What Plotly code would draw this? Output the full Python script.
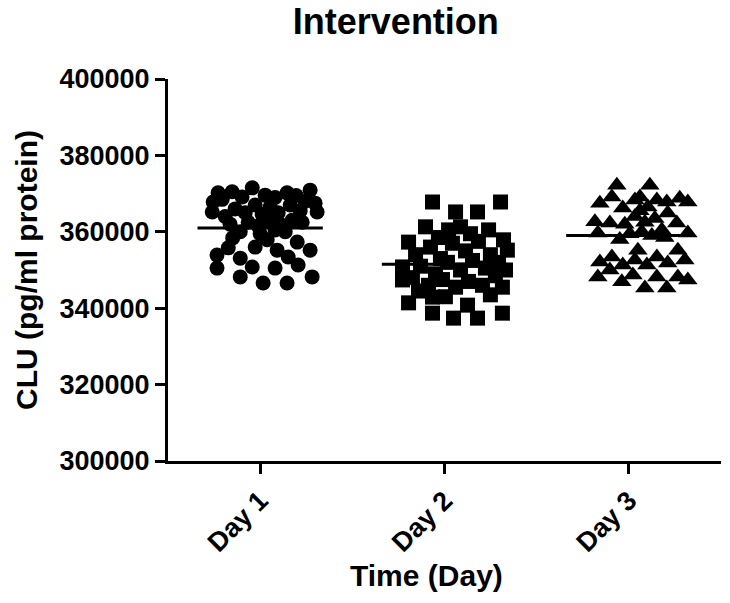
import plotly.graph_objects as go

categories = ["Day 1", "Day 2", "Day 3"]
y_ticks = [300000, 320000, 340000, 360000, 380000, 400000]

# jittered x position (in category units) and CLU value for each point
day1_x = [-0.228, -0.255, -0.260, -0.098, -0.043, 0.027, 0.146, 0.271, 0.298, 0.309,
          -0.190, -0.136, -0.081, -0.027, 0.011, 0.054, 0.098, 0.163, 0.217, 0.244,
          -0.163, -0.065, -0.011, 0.043, 0.108, 0.173, 0.228, -0.108, 0.000, 0.081,
          0.136, -0.206, 0.081, 0.195, -0.152,
          -0.149, 0.201, 0.271, -0.234, -0.173, -0.108, -0.027, 0.038, 0.092, 0.152,
          -0.234, -0.043, 0.081, 0.206, -0.108, 0.282, 0.016, 0.146]
day1_y = [370200, 367800, 365200, 369100, 371500, 369600, 370200, 370900, 367500, 365200,
          364000, 366000, 365000, 367000, 364500, 366500, 365000, 367000, 365500, 368000,
          362000, 362500, 361500, 363000, 362000, 363000, 362500, 360000, 359500, 360500,
          360000, 368500, 369000, 369500, 370500,
          358400, 357300, 355200, 353900, 355800, 353100, 356000, 357900, 355200, 353400,
          350500, 350800, 350500, 351300, 348200, 348200, 346600, 346600]

day2_x = [-0.065, 0.304, 0.060, 0.179, -0.103, 0.239, -0.195, 0.022, 0.087, 0.320, 0.341,
          -0.157, -0.076, -0.022, 0.043, 0.114, 0.184, 0.249, -0.130, -0.049, 0.016,
          0.087, 0.152, 0.222, 0.293, -0.174, -0.087, -0.011, 0.060, 0.130, 0.206,
          0.276, -0.033, 0.141, 0.331, -0.141, 0.249, 0.005,
          -0.228, -0.195, -0.065, 0.049, 0.179, 0.314, 0.125, -0.065, 0.314, -0.228]
day2_y = [367800, 367800, 365200, 365200, 361300, 360500, 357300, 360500, 361300, 357900, 355200,
          354000, 356000, 353000, 357000, 355000, 357500, 354000, 351000, 349000, 352000,
          350000, 352500, 350500, 352000, 348000, 346000, 347500, 345500, 347000, 346000,
          348500, 358500, 359500, 350000, 344500, 343500, 343000,
          347400, 341400, 338700, 337400, 337400, 338700, 340800, 342900, 345500, 350800]

day3_x = [-0.065, 0.114, -0.157, -0.092, -0.033, 0.033, 0.060, 0.152, 0.206, 0.276, 0.320,
          -0.184, -0.103, 0.211, 0.260, -0.168, 0.320,
          -0.022, 0.033, 0.087, 0.141, 0.005, 0.070, 0.125, 0.179, -0.049, 0.195,
          0.060, 0.103,
          0.049, 0.266, -0.157, -0.092, -0.033, 0.033, 0.098, 0.152, 0.211, 0.304,
          -0.168, -0.103, -0.038, 0.022, 0.152, 0.266, 0.087, 0.206, 0.320]
day3_y = [372200, 372200, 367500, 369100, 366200, 368300, 369100, 368300, 367800, 368800, 367800,
          362600, 362300, 364900, 362300, 359700, 359700,
          362000, 364000, 362500, 363500, 359500, 360000, 359000, 360500, 358000, 358500,
          365500, 366500,
          355200, 355200, 352100, 353400, 351300, 352600, 351300, 353400, 351800, 352600,
          348200, 350000, 346900, 348700, 348200, 348200, 345300, 345300, 347400]

mean_values = [361000, 351500, 359000]

symbols = ["circle", "square", "triangle-up"]
sizes = [15, 15, 17]
xs = [day1_x, day2_x, day3_x]
ys = [day1_y, day2_y, day3_y]

fig = go.Figure()
for i in range(3):
    fig.add_trace(go.Scatter(
        x=[i + dx for dx in xs[i]], y=ys[i], mode="markers",
        marker=dict(symbol=symbols[i], size=sizes[i], color="black", line=dict(width=0)),
        showlegend=False, hoverinfo="y"))
    fig.add_trace(go.Scatter(
        x=[i - 0.34, i + 0.34], y=[mean_values[i], mean_values[i]], mode="lines",
        line=dict(color="black", width=3), showlegend=False, hoverinfo="skip"))

font_family = "Liberation Sans, Arial, sans-serif"
fig.update_layout(
    width=730, height=603,
    margin=dict(l=168, r=9, t=79, b=142),
    paper_bgcolor="white", plot_bgcolor="white",
    font=dict(family=font_family, color="black"),
    title=dict(text="<b>Intervention</b>", x=0.412, xref="paper", xanchor="center",
               y=1 - 21 / 603, yref="container", yanchor="middle",
               font=dict(size=36, family=font_family, color="black")),
    xaxis=dict(
        range=[-0.5, 2.5], tickmode="array", tickvals=[0, 1, 2],
        ticktext=["<b>%s</b>" % c for c in categories],
        tickangle=-45, ticks="outside", ticklen=10, tickwidth=3, tickcolor="black",
        showline=True, linecolor="black", linewidth=3, showgrid=False, zeroline=False,
        tickfont=dict(size=27, family=font_family, color="black")),
    yaxis=dict(
        range=[300000, 400000], tickmode="array", tickvals=y_ticks,
        ticktext=["<b>%d</b>" % v for v in y_ticks],
        ticks="outside", ticklen=10, tickwidth=3, tickcolor="black",
        showline=True, linecolor="black", linewidth=3, showgrid=False, zeroline=False,
        tickfont=dict(size=27, family=font_family, color="black"),
        title=dict(text="<b>CLU (pg/ml protein)</b>", font=dict(size=30, family=font_family, color="black"),
                   standoff=13)),
    annotations=[dict(text="<b>Time (Day)</b>", xref="paper", yref="paper",
                      x=0.467, y=-0.30, xanchor="center", yanchor="middle", showarrow=False,
                      font=dict(size=30, family=font_family, color="black"))],
)

fig.write_html("out.html")
